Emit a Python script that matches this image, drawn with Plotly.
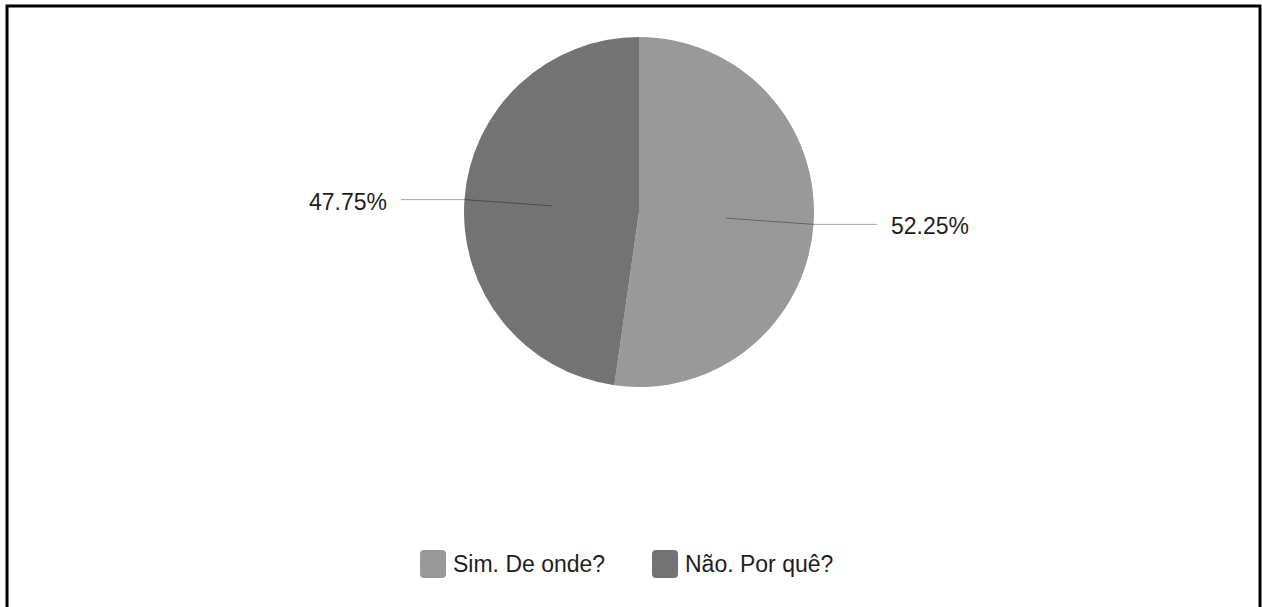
import math
import plotly.graph_objects as go

# Survey answers and their shares (%)
categories = ["Sim. De onde?", "Não. Por quê?"]
shares = [52.25, 47.75]
colors = ["#999999", "#737373"]

W, H = 1262, 607
CX, CY, R = 639, 212, 175          # pie centre / radius in pixels


def px(x):
    return x / W


def py(y):
    return 1 - y / H


fig = go.Figure(
    go.Pie(
        labels=categories,
        values=shares,
        sort=False,
        direction="clockwise",
        rotation=0,
        marker=dict(colors=colors, line=dict(width=0)),
        textinfo="none",
        hoverinfo="label+percent",
        showlegend=False,
        domain=dict(x=[px(CX - R), px(CX + R)], y=[py(CY + R), py(CY - R)]),
    )
)

shapes = []
annotations = []

# Leader lines and outside percentage labels, placed at each slice's mid angle
total = sum(shares)
start = 0.0
for name, val in zip(categories, shares):
    mid = (start + val / 2) / total * 2 * math.pi   # clockwise from 12 o'clock
    start += val
    sx, sy = math.sin(mid), -math.cos(mid)
    x_in, y_in = CX + 0.5 * R * sx, CY + 0.5 * R * sy
    x_edge, y_edge = CX + R * sx, CY + R * sy
    side = 1 if sx >= 0 else -1
    x_end = CX + side * (R + 63)
    path = (f"M{px(x_in)},{py(y_in)} L{px(x_edge)},{py(y_edge)} "
            f"L{px(x_end)},{py(y_edge)}")
    shapes.append(dict(type="path", xref="paper", yref="paper", path=path,
                       line=dict(color="rgba(0,0,0,0.35)", width=1)))
    annotations.append(dict(
        x=px(x_end + side * 12), y=py(y_edge + 2), xref="paper", yref="paper",
        text=f"{val / total * 100:.2f}%", showarrow=False,
        xanchor="left" if side > 0 else "right", yanchor="middle",
        font=dict(size=23, color="#1e1e1e"),
    ))

# Legend: rounded swatches followed by category names
legend_x = [420, 652]
sw, sh, rr = 26, 28, 4
ly = 564
for name, col, x0 in zip(categories, colors, legend_x):
    x1 = x0 + sw
    y0, y1 = ly - sh / 2, ly + sh / 2
    rx, ry = rr / W, rr / H
    X0, X1, Y0, Y1 = px(x0), px(x1), py(y0), py(y1)
    path = (f"M{X0 + rx},{Y0} L{X1 - rx},{Y0} Q{X1},{Y0} {X1},{Y0 - ry} "
            f"L{X1},{Y1 + ry} Q{X1},{Y1} {X1 - rx},{Y1} "
            f"L{X0 + rx},{Y1} Q{X0},{Y1} {X0},{Y1 + ry} "
            f"L{X0},{Y0 - ry} Q{X0},{Y0} {X0 + rx},{Y0} Z")
    shapes.append(dict(type="path", xref="paper", yref="paper", path=path,
                       fillcolor=col, line=dict(width=0)))
    annotations.append(dict(
        x=px(x1 + 5), y=py(ly), xref="paper", yref="paper", text=name,
        showarrow=False, xanchor="left", yanchor="middle",
        font=dict(size=23, color="#1e1e1e"),
    ))

# Outer frame
shapes.append(dict(type="rect", xref="paper", yref="paper",
                   x0=px(7), x1=px(1260), y0=-0.05, y1=py(6),
                   line=dict(color="black", width=3), fillcolor="rgba(0,0,0,0)"))

fig.update_layout(
    width=W, height=H,
    margin=dict(l=0, r=0, t=0, b=0),
    paper_bgcolor="white", plot_bgcolor="white",
    font=dict(family="Liberation Sans, Arial, sans-serif"),
    shapes=shapes,
    annotations=annotations,
)

fig.write_html("out.html")
